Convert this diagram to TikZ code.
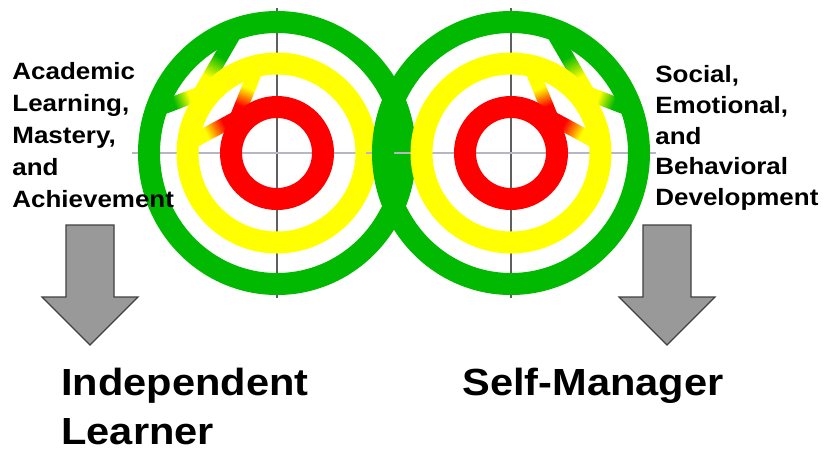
\documentclass[tikz,border=0pt]{standalone}
\usepackage{fontspec}
\newfontfamily\labelfont[FakeStretch=1.1]{Liberation Sans}
\usetikzlibrary{calc}

\definecolor{ringgreen}{RGB}{0,185,0}
\definecolor{ringyellow}{RGB}{255,255,0}
\definecolor{ringred}{RGB}{255,0,0}
\definecolor{arrowgray}{RGB}{153,153,153}
\definecolor{axisdark}{RGB}{95,95,95}
\definecolor{axislight}{RGB}{182,182,198}

\pgfdeclarehorizontalshading{redyellow}{100bp}{color(0bp)=(ringred); color(36bp)=(ringred); color(56bp)=(ringyellow); color(100bp)=(ringyellow)}
\pgfdeclarehorizontalshading{yellowgreen}{100bp}{color(0bp)=(ringyellow); color(36bp)=(ringyellow); color(56bp)=(ringgreen); color(100bp)=(ringgreen)}

% band from one ring to the next
\newcommand{\ringstrip}[4]{%
  \shade[shading=#1, shading angle=#2]
    ($(#3)!3.5pt!90:(#4)$) -- ($(#4)!3.5pt!-90:(#3)$) --
    ($(#4)!3.5pt!90:(#3)$) -- ($(#3)!3.5pt!-90:(#4)$) -- cycle;}

\begin{document}
\begin{tikzpicture}[x=0.5pt, y=-0.5pt,
    ring/.style={line width=11pt},
    crossv/.style={axisdark, line width=0.6pt},
    crossh/.style={axislight, line width=0.6pt},
    sidetext/.style={inner sep=0pt, anchor=north west, align=left,
      font=\labelfont\bfseries\fontsize{11.8}{16}\selectfont},
    bigtext/.style={inner sep=0pt, anchor=north west, align=left,
      font=\labelfont\bfseries\fontsize{18.9}{24.5}\selectfont},
    downarrow/.style={fill=arrowgray, draw=black!75, line width=0.6pt}]
  \useasboundingbox (0,0) rectangle (827,452);

  % left target
  \coordinate (lc) at (277,153);
  \begin{scope}[shift={(lc)}, y=0.5pt]
    \draw[crossv] (0,-145) -- (0,145);
    \draw[crossh] (-145,0) -- (145,0);
    \coordinate (lv1) at (-40.4,35.2);
    \coordinate (la) at (-20.9,83.4);
    \coordinate (lb) at (-90,8.4);
    \coordinate (lv2) at (-77.2,59.5);
    \coordinate (lce) at (-42.1,120.1);
    \coordinate (lde) at (-119.2,43.5);
    \ringstrip{redyellow}{68}{lv1}{la}
    \ringstrip{redyellow}{208}{lv1}{lb}
    \ringstrip{yellowgreen}{60}{lv2}{lce}
    \ringstrip{yellowgreen}{201}{lv2}{lde}
    \draw[ring, ringgreen] (0,0) ellipse [x radius=128, y radius=131];
    \draw[ring, ringyellow] (0,0) circle [radius=89.5];
    \draw[ring, ringred] (0,0) circle [radius=46];
  \end{scope}

  % right target
  \coordinate (rc) at (511,153);
  \begin{scope}[shift={(rc)}, y=0.5pt]
    \draw[crossv] (0,-145) -- (0,145);
    \draw[crossh] (-145,0) -- (145,0);
    \coordinate (rv1) at (40.4,35.2);
    \coordinate (ra) at (20.9,83.4);
    \coordinate (rb) at (90,8.4);
    \coordinate (rv2) at (77.2,59.5);
    \coordinate (rce) at (42.1,120.1);
    \coordinate (rde) at (119.2,43.5);
    \ringstrip{redyellow}{112}{rv1}{ra}
    \ringstrip{redyellow}{-28}{rv1}{rb}
    \ringstrip{yellowgreen}{120}{rv2}{rce}
    \ringstrip{yellowgreen}{-21}{rv2}{rde}
    \draw[ring, ringgreen] (0,0) ellipse [x radius=128, y radius=131];
    \draw[ring, ringyellow] (0,0) circle [radius=89.5];
    \draw[ring, ringred] (0,0) circle [radius=46];
  \end{scope}

  % arrows
  \filldraw[downarrow] (66,225) -- (114,225) -- (114,297) -- (138,297)
    -- (90,345) -- (42,297) -- (66,297) -- cycle;
  \filldraw[downarrow] (643,225) -- (691,225) -- (691,297) -- (715,297)
    -- (667,345) -- (619,297) -- (643,297) -- cycle;

  \node[sidetext] (acad) at (12,62) {Academic\\Learning,\\Mastery,\\and\\Achievement};
  \node[sidetext, font=\labelfont\bfseries\fontsize{11.8}{15.4}\selectfont]
    (social) at (655,65) {Social,\\Emotional,\\and\\Behavioral\\Development};
  \node[bigtext] (indep) at (61,368) {Independent\\Learner};
  \node[bigtext] (selfman) at (462,368) {Self-Manager};
\end{tikzpicture}
\end{document}
